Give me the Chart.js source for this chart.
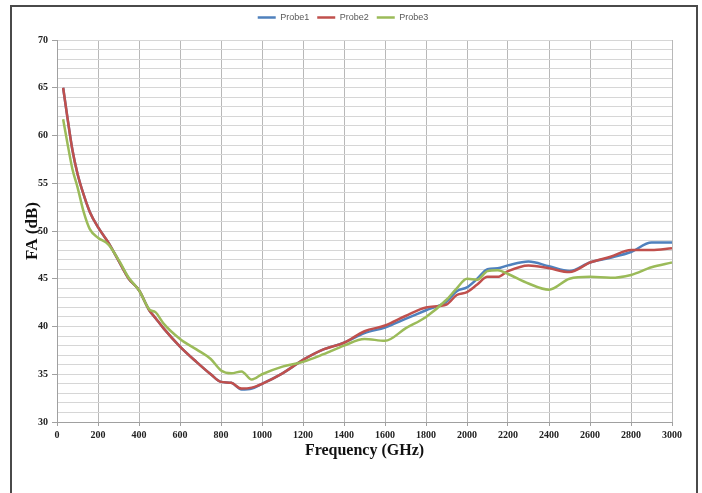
<!DOCTYPE html>
<html>
<head>
<meta charset="utf-8">
<script src="https://cdn.jsdelivr.net/npm/chart.js@4"></script>
<style>
    body { margin: 0; background: #fff; }
    #wrap { position: relative; width: 702px; height: 493px; overflow: hidden; }
    #frame { position: absolute; left: 10px; top: 5px; width: 684px; height: 600px; border: 2px solid #4a4a4a; }
    #myChart { position: absolute; left: 0; top: 0; }
</style>
</head>
<body>
<div id="wrap">
    <div id="frame"></div>
    <canvas id="myChart" width="702" height="493"></canvas>
</div>
<script>
const FREQS = [30, 50, 75, 100, 130, 160, 200, 250, 300, 350, 400, 450, 480, 520, 600, 680, 750, 800, 850, 900,
    950, 1000, 1100, 1200, 1300, 1400, 1500, 1600, 1700, 1800, 1900, 1950, 2000, 2050, 2100, 2150, 2200, 2300,
    2400, 2500, 2600, 2700, 2800, 2900, 3000]

const PROBE1 = [65.0, 62.0, 58.5, 56.0, 53.8, 52.0, 50.4, 48.8, 46.9, 45.0, 43.8, 41.7, 40.9, 39.8, 37.9, 36.3,
    35.0, 34.2, 34.1, 33.4, 33.5, 34.0, 35.1, 36.5, 37.6, 38.3, 39.3, 39.9, 40.8, 41.7, 42.6, 43.7, 44.1, 45.0,
    46.0, 46.1, 46.4, 46.8, 46.3, 45.8, 46.7, 47.2, 47.8, 48.8, 48.8]

const PROBE2 = [65.0, 62.0, 58.5, 56.0, 53.8, 52.0, 50.4, 48.8, 46.9, 45.0, 43.8, 41.7, 40.9, 39.8, 37.9, 36.3,
    35.0, 34.2, 34.1, 33.5, 33.6, 34.0, 35.1, 36.5, 37.6, 38.3, 39.5, 40.1, 41.1, 42.0, 42.3, 43.3, 43.6, 44.4,
    45.2, 45.2, 45.8, 46.4, 46.1, 45.7, 46.7, 47.3, 48.0, 48.0, 48.2]

const PROBE3 = [61.7, 59.3, 56.5, 54.6, 52.0, 50.2, 49.3, 48.6, 47.0, 45.1, 43.8, 41.8, 41.5, 40.3, 38.7, 37.6,
    36.6, 35.4, 35.1, 35.3, 34.45, 35.0, 35.8, 36.3, 37.1, 38.0, 38.7, 38.5, 39.8, 41.0, 42.8, 44.0, 45.0, 44.9,
    45.8, 45.9, 45.5, 44.5, 43.85, 45.0, 45.2, 45.1, 45.4, 46.2, 46.7]

// later probes are painted on top, like the original
const SERIES = [
    { label: 'Probe1', values: PROBE1, color: '#4f81bd', order: 3 },
    { label: 'Probe2', values: PROBE2, color: '#c0504d', order: 2 },
    { label: 'Probe3', values: PROBE3, color: '#9bbb59', order: 1 }
]

const AXIS_FONT = "'Liberation Serif', 'Times New Roman', serif"

/** legendSpacer: adds some room between the legend and the plot */
const legendSpacer = {
    id: 'legendSpacer',
    beforeInit(chart) {
        const fit = chart.legend.fit;
        chart.legend.fit = function () {
            fit.bind(chart.legend)();
            this.height += 8;
        };
    }
};

/** buildDatasets: pairs each probe with the frequency list */
function buildDatasets() {
    return SERIES.map(s => ({
        label: s.label,
        data: FREQS.map((f, i) => ({ x: f, y: s.values[i] })),
        order: s.order,
        borderColor: s.color,
        backgroundColor: s.color,
        borderWidth: 2.5,
        pointRadius: 0,
        cubicInterpolationMode: 'monotone'
    }));
}

const myChart = new Chart(document.getElementById('myChart'), {
    type: 'line',
    data: { datasets: buildDatasets() },
    plugins: [legendSpacer],
    options: {
        responsive: false,
        animation: false,
        layout: { padding: { left: 14, right: 30, top: 5, bottom: 31 } },
        plugins: {
            tooltip: { enabled: false },
            legend: {
                position: 'top',
                labels: {
                    usePointStyle: true,
                    pointStyle: 'line',
                    pointStyleWidth: 18,
                    padding: 8,
                    color: '#595959',
                    font: { family: "'Liberation Sans', Arial, sans-serif", size: 9 },
                    sort: (a, b) => a.datasetIndex - b.datasetIndex
                }
            }
        },
        scales: {
            x: {
                type: 'linear',
                min: 0,
                max: 3000,
                afterFit: axis => { axis.height = 40; },
                ticks: {
                    stepSize: 200,
                    autoSkip: false,
                    maxRotation: 0,
                    padding: 3,
                    color: '#222',
                    font: { family: AXIS_FONT, size: 10, weight: 'bold' },
                    callback: v => String(v)
                },
                grid: { color: '#b8b8b8', tickColor: '#a0a0a0', tickLength: 4 },
                border: { color: '#a0a0a0' },
                title: {
                    display: true,
                    text: 'Frequency (GHz)',
                    color: '#111',
                    padding: { top: 0, bottom: 2 },
                    font: { family: AXIS_FONT, size: 16, weight: 'bold' }
                }
            },
            y: {
                min: 30,
                max: 70,
                afterFit: axis => { axis.width = 43; },
                ticks: {
                    stepSize: 1,
                    autoSkip: false,
                    padding: 4,
                    color: '#222',
                    font: { family: AXIS_FONT, size: 10, weight: 'bold' },
                    callback: v => (v % 5 === 0 ? String(v) : '')
                },
                grid: {
                    color: '#d6d6d6',
                    tickLength: 5,
                    tickColor: ctx => (ctx.tick && ctx.tick.value % 5 === 0 ? '#a0a0a0' : 'rgba(0,0,0,0)')
                },
                border: { color: '#a0a0a0' },
                title: {
                    display: true,
                    text: 'FA (dB)',
                    color: '#111',
                    padding: { top: 8, bottom: 0 },
                    font: { family: AXIS_FONT, size: 17, weight: 'bold' }
                }
            }
        }
    }
});
</script>
</body>
</html>
